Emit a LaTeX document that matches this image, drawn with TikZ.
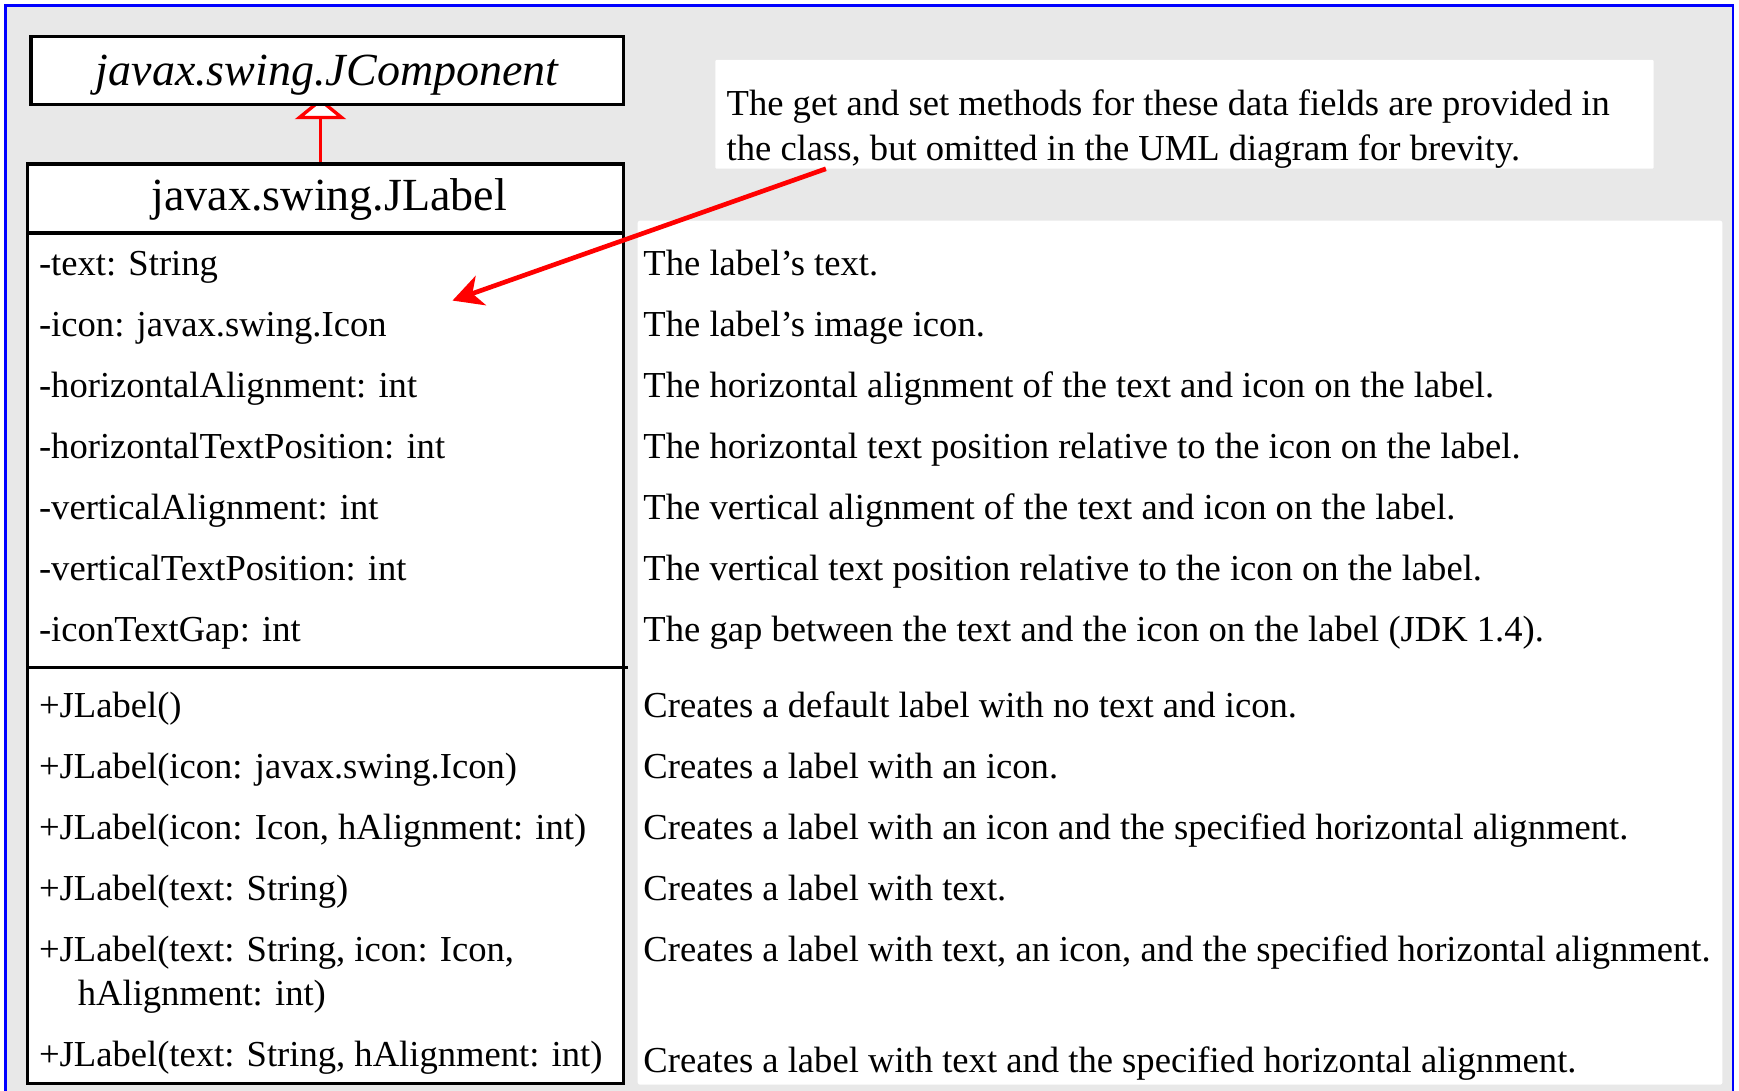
\documentclass[tikz,border=0pt]{standalone}
\usepackage{fontspec}
\setmainfont{Liberation Serif}
\usetikzlibrary{arrows.meta,calc}
\pgfdeclarelayer{back}
\pgfdeclarelayer{under}
\pgfsetlayers{back,under,main}
\definecolor{panelgrey}{HTML}{E8E8E8}
\definecolor{frameblue}{RGB}{0,0,255}
\definecolor{linkred}{RGB}{255,0,0}

\begin{document}
\begin{tikzpicture}[x=1pt,y=-1pt,
  classbox/.style={draw=black, line width=3pt, fill=white, rectangle, inner sep=0pt},
  member/.style={anchor=base west, inner sep=0pt, font=\fontsize{33}{40}\selectfont},
  desc/.style={member},
  classname/.style={inner sep=0pt, font=\fontsize{41.5}{48}\selectfont},
  inherit/.style={draw=linkred, line width=3pt,
    -{Triangle[length=19pt,width=46pt,fill=white]}},
  pointer/.style={draw=linkred, line width=4.2pt,
    -{Stealth[length=27pt,width=28pt,inset=8pt]}},
]
\useasboundingbox (0,0) rectangle (1568,983);
\clip (0,0) rectangle (1568,983);

% frame, grey panel and white description area
\begin{pgfonlayer}{back}
  \fill[white] (0,0) rectangle (1568,983);
  \filldraw[fill=panelgrey, draw=frameblue, line width=2.5pt] (5,5) rectangle (1562.5,1010);
  \fill[white, rounded corners=2pt] (575,199) rectangle (1553,978);
\end{pgfonlayer}

% superclass
\node[classbox, minimum width=534pt, minimum height=61pt] (jcomp) at (295,63.5) {};
\node[classname, anchor=base] (jcname) at (295,77) {\itshape javax.swing.JComponent};

% JLabel class box
\node[classbox, minimum width=537pt, minimum height=829pt] (jlabel) at (293.5,562.5) {};
\node[classname, anchor=base] (jlname) at (297,190) {javax.swing.JLabel};
\coordinate (sepname) at (0,210);
\coordinate (sepattr) at (0,602);
\draw[line width=3pt] (jlabel.west |- sepname) -- (jlabel.east |- sepname);
\draw[line width=3pt] (jlabel.west |- sepattr) -- ([xshift=3pt]jlabel.east |- sepattr);

% data fields
\node[member] (a1) at (35,248) {-text: String};
\node[member] (a2) at (35,303) {-icon: javax.swing.Icon};
\node[member] (a3) at (35,358) {-horizontalAlignment: int};
\node[member] (a4) at (35,413) {-horizontalTextPosition: int};
\node[member] (a5) at (35,468) {-verticalAlignment: int};
\node[member] (a6) at (35,523) {-verticalTextPosition: int};
\node[member] (a7) at (35,578) {-iconTextGap: int};

% constructors
\node[member] (m1) at (35,647) {+JLabel()};
\node[member] (m2) at (35,702) {+JLabel(icon: javax.swing.Icon)};
\node[member] (m3) at (35,757) {+JLabel(icon: Icon, hAlignment: int)};
\node[member] (m4) at (35,812) {+JLabel(text: String)};
\node[member] (m5) at (35,867) {+JLabel(text: String, icon: Icon,};
\node[member] (m5b) at (70,907) {hAlignment: int)};
\node[member] (m6) at (35,962) {+JLabel(text: String, hAlignment: int)};

% descriptions
\node[desc] (d1) at (580,248) {The label's text.};
\node[desc] (d2) at (580,303) {The label's image icon.};
\node[desc] (d3) at (580,358) {The horizontal alignment of the text and icon on the label.};
\node[desc] (d4) at (580,413) {The horizontal text position relative to the icon on the label.};
\node[desc] (d5) at (580,468) {The vertical alignment of the text and icon on the label.};
\node[desc] (d6) at (580,523) {The vertical text position relative to the icon on the label.};
\node[desc] (d7) at (580,578) {The gap between the text and the icon on the label (JDK 1.4).};
\node[desc] (d8) at (580,647) {Creates a default label with no text and icon.};
\node[desc] (d9) at (580,702) {Creates a label with an icon.};
\node[desc] (d10) at (580,757) {Creates a label with an icon and the specified horizontal alignment.};
\node[desc] (d11) at (580,812) {Creates a label with text.};
\node[desc] (d12) at (580,867) {Creates a label with text, an icon, and the specified horizontal alignment.};
\node[desc] (d13) at (580,967) {Creates a label with text and the specified horizontal alignment.};

% note
\node[fill=white, rounded corners=1pt, inner sep=0pt, minimum width=846pt, minimum height=98pt]
  (note) at (1068,103) {};
\node[member] (note1) at (655,104) {The get and set methods for these data fields are provided in};
\node[member] (note2) at (655,145) {the class, but omitted in the UML diagram for brevity.};

% generalization
\begin{pgfonlayer}{under}
  \draw[inherit, shorten >=-7pt] ([xshift=-4.5pt]jlabel.north)
    -- ([xshift=-4.5pt]jlabel.north |- jcomp.south);
\end{pgfonlayer}

% note pointer
\coordinate (pointtip) at (408,271);
\draw[pointer] ($(note.south west)!0.118!(note.south east)$) -- (pointtip);
\end{tikzpicture}
\end{document}
